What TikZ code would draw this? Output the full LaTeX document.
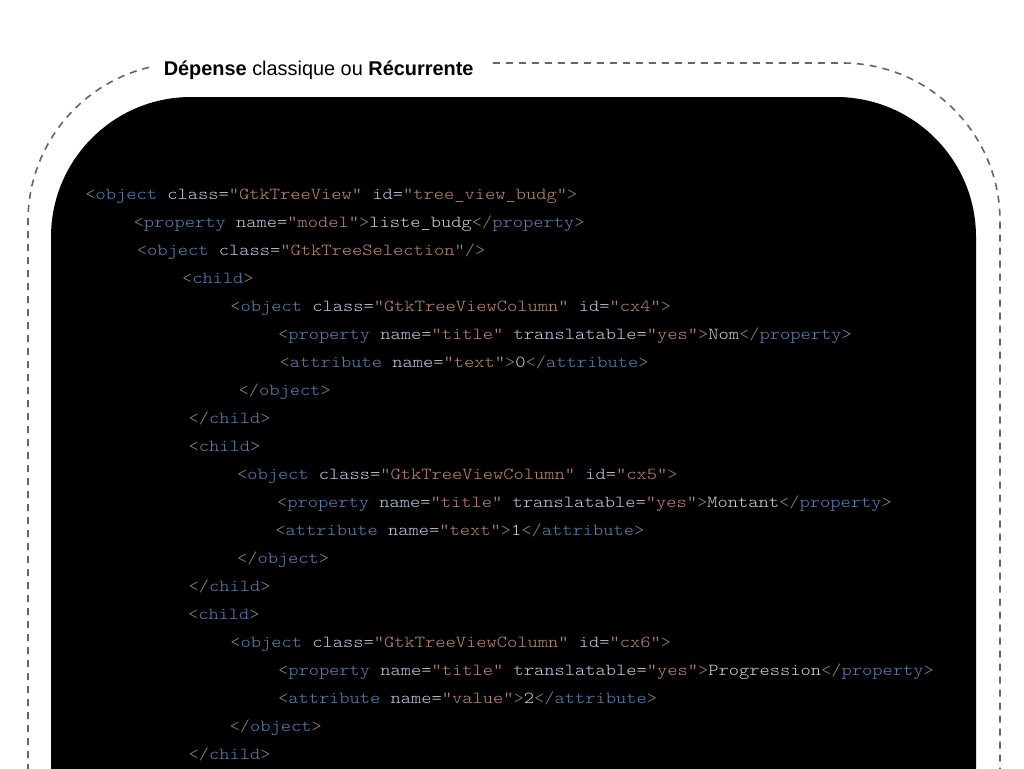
\documentclass[tikz,border=0pt]{standalone}
\usepackage{fontspec}
\newfontfamily\titlefont{Liberation Sans}
\newfontfamily\codefont[Extension=.otf,FakeStretch=1.162]{lmmonolt10-regular}
\definecolor{cpunct}{HTML}{808080}
\definecolor{ctag}{HTML}{5585BA}
\definecolor{cattr}{HTML}{B8D0E4}
\definecolor{cval}{HTML}{C48A6A}
\definecolor{ctext}{HTML}{D4D4D4}
\definecolor{cframe}{HTML}{666666}
\newcommand\xp[1]{\textcolor{cpunct}{#1}}
\newcommand\xt[1]{\textcolor{ctag}{#1}}
\newcommand\xa[1]{\textcolor{cattr}{#1}}
\newcommand\xv[1]{\textcolor{cval}{#1}}
\tikzset{
  codeline/.style={anchor=base west, inner sep=0pt, text=ctext, font=\codefont\fontsize{16.8}{20}\selectfont},
  dashframe/.style={draw=cframe, line width=1.6pt, dash pattern=on 7pt off 6pt, rounded corners=158pt},
  codebox/.style={fill=black, rounded corners=140pt},
  titlebox/.style={anchor=base west, fill=white, inner xsep=14pt, inner ysep=5pt, font=\titlefont\fontsize{19.9}{22}\selectfont}
}
\begin{document}
\begin{tikzpicture}[x=1pt,y=-1pt]
\clip (0,0) rectangle (1024,768);
\fill[white] (0,0) rectangle (1024,768);
\draw[dashframe] (28,1200) -- (28,63) -- (1000,63) -- (1000,1200);
\node[titlebox] (title) at (149.6,75) {\textbf{Dépense} classique ou \textbf{Récurrente}\hspace{5pt}};
\path[codebox] (51,1200) -- (51,97) -- (976,97) -- (976,1200) -- cycle;
\begin{scope}[yshift=-4pt]
\node[codeline] (l1) at (85.2,195) {\xp{<}\xt{object} \xa{class}=\xv{"GtkTreeView"} \xa{id}=\xv{"tree\_view\_budg"}\xp{>}};
\node[codeline] (l2) at (133.5,223) {\xp{<}\xt{property} \xa{name}=\xv{"model"}\xp{>}liste\_budg\xp{</}\xt{property}\xp{>}};
\node[codeline] (l3) at (136.7,251) {\xp{<}\xt{object} \xa{class}=\xv{"GtkTreeSelection"}\xp{/>}};
\node[codeline] (l4) at (181.8,279) {\xp{<}\xt{child}\xp{>}};
\node[codeline] (l5) at (230.2,307) {\xp{<}\xt{object} \xa{class}=\xv{"GtkTreeViewColumn"} \xa{id}=\xv{"cx4"}\xp{>}};
\node[codeline] (l6) at (277.8,335) {\xp{<}\xt{property} \xa{name}=\xv{"title"} \xa{translatable}=\xv{"yes"}\xp{>}Nom\xp{</}\xt{property}\xp{>}};
\node[codeline] (l7) at (279.5,363) {\xp{<}\xt{attribute} \xa{name}=\xv{"text"}\xp{>}0\xp{</}\xt{attribute}\xp{>}};
\node[codeline] (l8) at (238.5,391) {\xp{</}\xt{object}\xp{>}};
\node[codeline] (l9) at (188.5,419) {\xp{</}\xt{child}\xp{>}};
\node[codeline] (l10) at (188.5,447) {\xp{<}\xt{child}\xp{>}};
\node[codeline] (l11) at (236.8,475) {\xp{<}\xt{object} \xa{class}=\xv{"GtkTreeViewColumn"} \xa{id}=\xv{"cx5"}\xp{>}};
\node[codeline] (l12) at (276.8,503) {\xp{<}\xt{property} \xa{name}=\xv{"title"} \xa{translatable}=\xv{"yes"}\xp{>}Montant\xp{</}\xt{property}\xp{>}};
\node[codeline] (l13) at (275.2,531) {\xp{<}\xt{attribute} \xa{name}=\xv{"text"}\xp{>}1\xp{</}\xt{attribute}\xp{>}};
\node[codeline] (l14) at (236.8,559) {\xp{</}\xt{object}\xp{>}};
\node[codeline] (l15) at (188.5,587) {\xp{</}\xt{child}\xp{>}};
\node[codeline] (l16) at (187.8,615) {\xp{<}\xt{child}\xp{>}};
\node[codeline] (l17) at (230.2,643) {\xp{<}\xt{object} \xa{class}=\xv{"GtkTreeViewColumn"} \xa{id}=\xv{"cx6"}\xp{>}};
\node[codeline] (l18) at (277.8,671) {\xp{<}\xt{property} \xa{name}=\xv{"title"} \xa{translatable}=\xv{"yes"}\xp{>}Progression\xp{</}\xt{property}\xp{>}};
\node[codeline] (l19) at (277.8,699) {\xp{<}\xt{attribute} \xa{name}=\xv{"value"}\xp{>}2\xp{</}\xt{attribute}\xp{>}};
\node[codeline] (l20) at (229.5,727) {\xp{</}\xt{object}\xp{>}};
\node[codeline] (l21) at (188.5,755) {\xp{</}\xt{child}\xp{>}};
\end{scope}
\end{tikzpicture}
\end{document}
